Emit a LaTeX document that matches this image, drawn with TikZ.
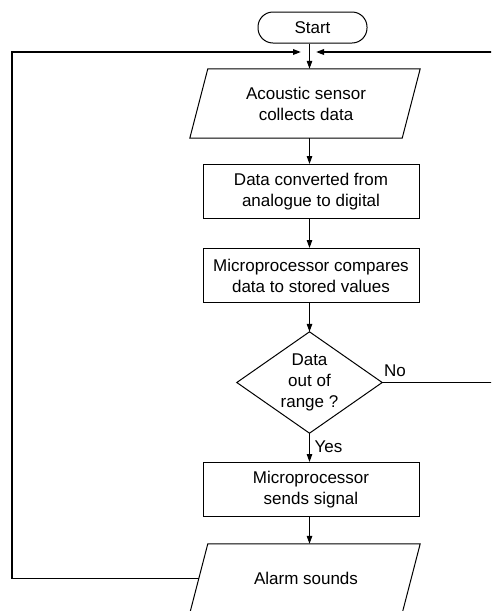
\documentclass[tikz,border=0pt]{standalone}
\usepackage{fontspec}
\setmainfont{Liberation Sans}
\usetikzlibrary{arrows.meta,calc}
\begin{document}
\begin{tikzpicture}[x=1pt,y=-1pt,
  font=\fontsize{17}{21}\selectfont,
  box/.style={draw, line width=1pt, minimum width=216, minimum height=54, align=center, inner sep=0pt},
  ghost/.style={minimum width=194, minimum height=69, align=center, inner sep=0pt},
  startbox/.style={draw, line width=1pt, rounded corners=15pt, minimum width=109, minimum height=31, inner sep=0pt},
  shapeline/.style={line width=1pt},
  arr/.style={line width=1.1pt, -{Triangle[length=8pt,width=5.5pt]}},
  loopline/.style={line width=1.7pt, -{Triangle[length=8pt,width=5.5pt]}},
  lbl/.style={inner sep=0pt}]
\useasboundingbox (0,0) rectangle (491,611);
\clip (0,0) rectangle (491,611);
\fill[white] (0,0) rectangle (491,611);

\node[startbox] (start) at (312.5,27.5) {Start};
\node[ghost] (in) at (306,103.5) {Acoustic sensor\\collects data};
\node[box] (conv) at (311,191.5) {Data converted from\\analogue to digital};
\node[box] (comp) at (311,275.5) {Microprocessor compares\\data to stored values};
\node[minimum width=145, minimum height=101, align=center, inner sep=0pt] (dia) at (309.5,382.5) {Data\\out of\\range ?};
\node[box] (sig) at (311,489.5) {Microprocessor\\sends signal};
\node[ghost] (out) at (306,578.5) {Alarm sounds};

% parallelograms
\draw[shapeline] ($(in.north west)+(-1,0)$) -- ($(in.north east)+(17,0)$) -- ($(in.south east)+(-1,0)$) -- ($(in.south west)+(-19,0)$) -- cycle;
\draw[shapeline] ($(out.north west)+(-1,0)$) -- ($(out.north east)+(17,0)$) -- ($(out.south east)+(-1,0)$) -- ($(out.south west)+(-19,0)$) -- cycle;
% decision
\draw[shapeline] (dia.north) -- (dia.east) -- (dia.south) -- (dia.west) -- cycle;

% main flow
\draw[arr] (start.south -| dia.north) -- (in.north -| dia.north);
\draw[arr] (in.south -| dia.north) -- (conv.north -| dia.north);
\draw[arr] (conv.south -| dia.north) -- (comp.north -| dia.north);
\draw[arr] (comp.south -| dia.north) -- (dia.north);
\draw[arr] (dia.south) -- (sig.north -| dia.south);
\draw[arr] (sig.south -| dia.south) -- (out.north -| dia.south);

% loops
\coordinate (jl) at (301,52);
\coordinate (jr) at (316,52);
\coordinate (lc) at (12,52);
\coordinate (rc) at (500,52);
\draw[loopline] ($(out.west)+(-10,0)$) -| (lc) -- (jl);
\draw[loopline] (dia.east) -| (rc) -- (jr);

\node[lbl] (no) at (395,371) {No};
\node[lbl] (yes) at (328.5,447) {Yes};
\end{tikzpicture}
\end{document}
